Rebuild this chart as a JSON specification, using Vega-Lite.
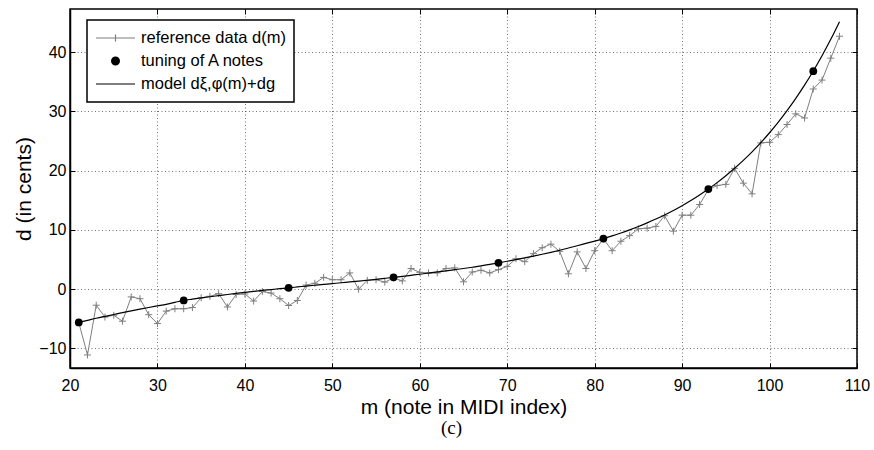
{
  "$schema": "https://vega.github.io/schema/vega-lite/v6.json",
  "width": 787,
  "height": 359,
  "autosize": {"type": "none"},
  "padding": {"left": 70, "top": 9, "right": 17, "bottom": 82},
  "background": "white",
  "title": {"text": "(c)", "orient": "bottom", "anchor": "middle", "font": "Liberation Serif", "fontSize": 19, "fontWeight": "normal", "color": "black", "offset": 2, "dx": -12},
  "config": {
    "view": {"stroke": "black", "strokeWidth": 1.5},
    "axis": {
      "labelFont": "Liberation Sans", "labelFontSize": 16, "labelColor": "black",
      "titleFont": "Liberation Sans", "titleFontSize": 21, "titleFontWeight": "normal", "titleColor": "black",
      "domainColor": "black", "domainWidth": 1.5, "tickColor": "black", "tickWidth": 1,
      "gridColor": "#000000", "gridOpacity": 0.55, "gridDash": [1, 2.5], "gridWidth": 1
    },
    "legend": {"strokeWidth": 1.5}
  },
  "datasets": {
    "ref": [
      {"m": 21, "d": -5.6}, {"m": 22, "d": -11.1}, {"m": 23, "d": -2.7}, {"m": 24, "d": -4.7},
      {"m": 25, "d": -4.4}, {"m": 26, "d": -5.4}, {"m": 27, "d": -1.3}, {"m": 28, "d": -1.6},
      {"m": 29, "d": -4.3}, {"m": 30, "d": -5.8}, {"m": 31, "d": -3.7}, {"m": 32, "d": -3.3},
      {"m": 33, "d": -3.3}, {"m": 34, "d": -3.1}, {"m": 35, "d": -1.45}, {"m": 36, "d": -1.2},
      {"m": 37, "d": -0.75}, {"m": 38, "d": -3.0}, {"m": 39, "d": -0.9}, {"m": 40, "d": -0.8},
      {"m": 41, "d": -2.0}, {"m": 42, "d": -0.4}, {"m": 43, "d": -0.65}, {"m": 44, "d": -1.6},
      {"m": 45, "d": -2.75}, {"m": 46, "d": -1.9}, {"m": 47, "d": 0.7}, {"m": 48, "d": 1.0},
      {"m": 49, "d": 2.0}, {"m": 50, "d": 1.6}, {"m": 51, "d": 1.6}, {"m": 52, "d": 2.75},
      {"m": 53, "d": 0.0}, {"m": 54, "d": 1.5}, {"m": 55, "d": 1.6}, {"m": 56, "d": 1.2},
      {"m": 57, "d": 1.9}, {"m": 58, "d": 1.4}, {"m": 59, "d": 3.5}, {"m": 60, "d": 2.85},
      {"m": 61, "d": 2.75}, {"m": 62, "d": 2.75}, {"m": 63, "d": 3.5}, {"m": 64, "d": 3.6},
      {"m": 65, "d": 1.25}, {"m": 66, "d": 2.9}, {"m": 67, "d": 3.2}, {"m": 68, "d": 2.75},
      {"m": 69, "d": 3.3}, {"m": 70, "d": 3.85}, {"m": 71, "d": 5.15}, {"m": 72, "d": 4.65},
      {"m": 73, "d": 6.0}, {"m": 74, "d": 7.0}, {"m": 75, "d": 7.6}, {"m": 76, "d": 6.4},
      {"m": 77, "d": 2.6}, {"m": 78, "d": 6.3}, {"m": 79, "d": 3.5}, {"m": 80, "d": 6.5},
      {"m": 81, "d": 8.5}, {"m": 82, "d": 6.5}, {"m": 83, "d": 8.1}, {"m": 84, "d": 9.05},
      {"m": 85, "d": 10.2}, {"m": 86, "d": 10.3}, {"m": 87, "d": 10.6}, {"m": 88, "d": 12.4},
      {"m": 89, "d": 9.8}, {"m": 90, "d": 12.5}, {"m": 91, "d": 12.5}, {"m": 92, "d": 14.3},
      {"m": 93, "d": 16.8}, {"m": 94, "d": 17.5}, {"m": 95, "d": 17.7}, {"m": 96, "d": 20.4},
      {"m": 97, "d": 17.9}, {"m": 98, "d": 16.1}, {"m": 99, "d": 24.7}, {"m": 100, "d": 24.8},
      {"m": 101, "d": 26.1}, {"m": 102, "d": 27.8}, {"m": 103, "d": 29.6}, {"m": 104, "d": 28.9},
      {"m": 105, "d": 33.8}, {"m": 106, "d": 35.3}, {"m": 107, "d": 39.0}, {"m": 108, "d": 42.7}
    ],
    "anotes": [
      {"m": 21, "d": -5.6, "series": "tuning of A notes"},
      {"m": 33, "d": -1.9, "series": "tuning of A notes"},
      {"m": 45, "d": 0.23, "series": "tuning of A notes"},
      {"m": 57, "d": 2.0, "series": "tuning of A notes"},
      {"m": 69, "d": 4.45, "series": "tuning of A notes"},
      {"m": 81, "d": 8.55, "series": "tuning of A notes"},
      {"m": 93, "d": 16.9, "series": "tuning of A notes"},
      {"m": 105, "d": 36.8, "series": "tuning of A notes"}
    ],
    "model": [
      {"m": 21, "d": -5.6}, {"m": 22, "d": -5.25}, {"m": 23, "d": -4.9}, {"m": 24, "d": -4.58},
      {"m": 25, "d": -4.27}, {"m": 26, "d": -3.96}, {"m": 27, "d": -3.66}, {"m": 28, "d": -3.37},
      {"m": 29, "d": -3.09}, {"m": 30, "d": -2.82}, {"m": 31, "d": -2.55}, {"m": 32, "d": -2.22},
      {"m": 33, "d": -1.9}, {"m": 34, "d": -1.68}, {"m": 35, "d": -1.47}, {"m": 36, "d": -1.27},
      {"m": 37, "d": -1.08}, {"m": 38, "d": -0.89}, {"m": 39, "d": -0.71}, {"m": 40, "d": -0.54},
      {"m": 41, "d": -0.37}, {"m": 42, "d": -0.21}, {"m": 43, "d": -0.06}, {"m": 44, "d": 0.09},
      {"m": 45, "d": 0.23}, {"m": 46, "d": 0.38}, {"m": 47, "d": 0.53}, {"m": 48, "d": 0.67},
      {"m": 49, "d": 0.81}, {"m": 50, "d": 0.95}, {"m": 51, "d": 1.09}, {"m": 52, "d": 1.23},
      {"m": 53, "d": 1.37}, {"m": 54, "d": 1.51}, {"m": 55, "d": 1.66}, {"m": 56, "d": 1.83},
      {"m": 57, "d": 2.0}, {"m": 58, "d": 2.17}, {"m": 59, "d": 2.35}, {"m": 60, "d": 2.53},
      {"m": 61, "d": 2.72}, {"m": 62, "d": 2.91}, {"m": 63, "d": 3.1}, {"m": 64, "d": 3.3},
      {"m": 65, "d": 3.5}, {"m": 66, "d": 3.71}, {"m": 67, "d": 3.93}, {"m": 68, "d": 4.18},
      {"m": 69, "d": 4.45}, {"m": 70, "d": 4.72}, {"m": 71, "d": 5.0}, {"m": 72, "d": 5.28},
      {"m": 73, "d": 5.58}, {"m": 74, "d": 5.9}, {"m": 75, "d": 6.23}, {"m": 76, "d": 6.58},
      {"m": 77, "d": 6.95}, {"m": 78, "d": 7.33}, {"m": 79, "d": 7.73}, {"m": 80, "d": 8.13},
      {"m": 81, "d": 8.55}, {"m": 82, "d": 9.0}, {"m": 83, "d": 9.49}, {"m": 84, "d": 10.02},
      {"m": 85, "d": 10.58}, {"m": 86, "d": 11.19}, {"m": 87, "d": 11.84}, {"m": 88, "d": 12.54},
      {"m": 89, "d": 13.29}, {"m": 90, "d": 14.1}, {"m": 91, "d": 14.97}, {"m": 92, "d": 15.91},
      {"m": 93, "d": 16.91}, {"m": 94, "d": 17.99}, {"m": 95, "d": 19.16}, {"m": 96, "d": 20.41},
      {"m": 97, "d": 21.75}, {"m": 98, "d": 23.19}, {"m": 99, "d": 24.75}, {"m": 100, "d": 26.41},
      {"m": 101, "d": 28.21}, {"m": 102, "d": 30.14}, {"m": 103, "d": 32.21}, {"m": 104, "d": 34.44},
      {"m": 105, "d": 36.84}, {"m": 106, "d": 39.41}, {"m": 107, "d": 42.18}, {"m": 108, "d": 45.16}
    ]
  },
  "resolve": {"axis": {"x": "independent", "y": "independent"}},
  "layer": [
    {
      "data": {"name": "ref"},
      "mark": {"type": "line", "strokeWidth": 1, "color": "#7f7f7f", "clip": true},
      "encoding": {
        "x": {"field": "m", "type": "quantitative", "scale": {"domain": [20, 110], "nice": false},
          "axis": {"values": [20, 30, 40, 50, 60, 70, 80, 90, 100, 110], "grid": true, "tickSize": -5, "labelPadding": 14, "title": "m (note in MIDI index)", "titlePadding": 3, "labelFlush": false}},
        "y": {"field": "d", "type": "quantitative", "scale": {"domain": [-13.3, 47.3], "nice": false, "zero": false},
          "axis": {"values": [-10, 0, 10, 20, 30, 40], "grid": true, "tickSize": -5, "labelPadding": 9, "title": "d (in cents)", "titlePadding": 4, "labelFlush": false}}
      }
    },
    {
      "data": {"name": "ref"},
      "mark": {"type": "point", "shape": "M-1,0H1M0,-1V1", "size": 49, "filled": false, "strokeWidth": 1, "color": "#7f7f7f", "opacity": 1, "clip": true},
      "encoding": {
        "x": {"field": "m", "type": "quantitative", "axis": null},
        "y": {"field": "d", "type": "quantitative", "axis": null}
      }
    },
    {
      "data": {"name": "model"},
      "mark": {"type": "line", "strokeWidth": 1.2, "color": "black", "interpolate": "monotone", "clip": true},
      "encoding": {
        "x": {"field": "m", "type": "quantitative",
          "axis": {"orient": "top", "values": [20, 30, 40, 50, 60, 70, 80, 90, 100, 110], "labels": false, "grid": false, "tickSize": -5, "title": null, "domain": false}},
        "y": {"field": "d", "type": "quantitative",
          "axis": {"orient": "right", "values": [-10, 0, 10, 20, 30, 40], "labels": false, "grid": false, "tickSize": -5, "title": null, "domain": false}}
      }
    },
    {
      "data": {"name": "anotes"},
      "mark": {"type": "point", "shape": "circle", "size": 60, "filled": true, "color": "black", "opacity": 1, "clip": true},
      "encoding": {
        "x": {"field": "m", "type": "quantitative", "axis": null},
        "y": {"field": "d", "type": "quantitative", "axis": null}
      }
    },
    {
      "data": {"name": "anotes"},
      "mark": {"type": "point", "filled": false, "opacity": 0, "strokeWidth": 1, "clip": true},
      "encoding": {
        "x": {"field": "m", "type": "quantitative", "axis": null},
        "y": {"field": "d", "type": "quantitative", "axis": null},
        "color": {"field": "series", "type": "nominal",
          "scale": {"domain": ["reference data d(m)", "tuning of A notes", "model dξ,φ(m)+dg"], "range": ["#7f7f7f", "#000000", "#000000"]},
          "legend": {
            "title": null, "orient": "none", "legendX": 17, "legendY": 11,
            "strokeColor": "black", "fillColor": "white", "padding": 8,
            "symbolSize": 1521, "symbolStrokeWidth": 1.2, "symbolOpacity": 1, "clipHeight": 20, "rowPadding": 3,
            "labelFont": "Liberation Sans", "labelFontSize": 16.5, "labelColor": "black", "labelOffset": 5, "labelLimit": 400
          }},
        "shape": {"field": "series", "type": "nominal",
          "scale": {"domain": ["reference data d(m)", "tuning of A notes", "model dξ,φ(m)+dg"],
            "range": ["M-1,0H1M0,-0.18V0.18",
              "M-0.2,0A0.2,0.2,0,1,0,0.2,0A0.2,0.2,0,1,0,-0.2,0M-0.16,0A0.16,0.16,0,1,0,0.16,0A0.16,0.16,0,1,0,-0.16,0M-0.12,0A0.12,0.12,0,1,0,0.12,0A0.12,0.12,0,1,0,-0.12,0M-0.08,0A0.08,0.08,0,1,0,0.08,0A0.08,0.08,0,1,0,-0.08,0M-0.04,0A0.04,0.04,0,1,0,0.04,0A0.04,0.04,0,1,0,-0.04,0M-0.02,0H0.02",
              "M-1,0H1"]},
          "legend": {
            "title": null, "orient": "none", "legendX": 17, "legendY": 11,
            "strokeColor": "black", "fillColor": "white", "padding": 8,
            "symbolSize": 1521, "symbolStrokeWidth": 1.2, "symbolOpacity": 1, "clipHeight": 20, "rowPadding": 3,
            "labelFont": "Liberation Sans", "labelFontSize": 16.5, "labelColor": "black", "labelOffset": 5, "labelLimit": 400
          }}
      }
    }
  ]
}
